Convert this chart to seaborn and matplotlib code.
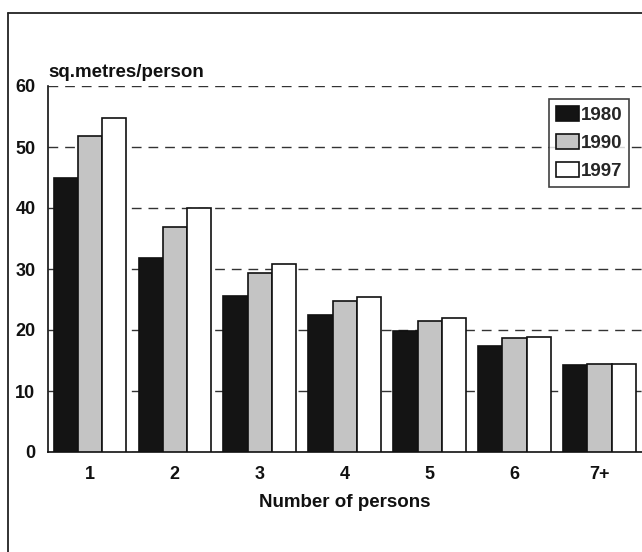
import matplotlib
matplotlib.use("Agg")
import matplotlib.pyplot as plt
from matplotlib.lines import Line2D
import pandas as pd
import seaborn as sns

# --- data
persons = ["1", "2", "3", "4", "5", "6", "7+"]
years = ["1980", "1990", "1997"]
area_1980 = [44.9, 31.8, 25.5, 22.5, 19.8, 17.4, 14.3]
area_1990 = [51.8, 36.9, 29.3, 24.8, 21.5, 18.7, 14.5]
area_1997 = [54.7, 40.0, 30.8, 25.4, 21.9, 18.8, 14.5]
y_ticks = [0, 10, 20, 30, 40, 50, 60]

df = pd.DataFrame({
    "persons": persons * 3,
    "year": [y for y in years for _ in persons],
    "area": area_1980 + area_1990 + area_1997,
})

sns.set_theme(style="white")
plt.rcParams["font.family"] = ["Liberation Sans", "DejaVu Sans"]
plt.rcParams["font.weight"] = "bold"

fig = plt.figure(figsize=(6.42, 5.52), dpi=100)
ax = fig.add_axes([48 / 642, 1 - 452 / 552, 1 - 48 / 642, (452 - 86) / 552])

palette = {"1980": "#141414", "1990": "#c4c4c4", "1997": "#ffffff"}
sns.barplot(data=df, x="persons", y="area", hue="year", order=persons,
            hue_order=years, palette=palette, width=0.85, saturation=1,
            edgecolor="#111111", linewidth=1.2, ax=ax, zorder=3)

ax.set_xlim(-0.49, 6.5)
ax.set_ylim(0, 60)
ax.set_yticks(y_ticks)
ax.grid(axis="y", linestyle=(0, (7, 5)), color="#333333", linewidth=1.0, zorder=0)
ax.grid(axis="x", visible=False)
ax.set_axisbelow(True)

for side in ["top", "right"]:
    ax.spines[side].set_visible(False)
for side in ["left", "bottom"]:
    ax.spines[side].set_color("#111111")
    ax.spines[side].set_linewidth(1.2)

ax.tick_params(axis="y", length=0, pad=9, labelsize=13, labelcolor="#111111")
ax.tick_params(axis="x", length=0, pad=10, labelsize=13, labelcolor="#111111")
for lbl in ax.get_xticklabels() + ax.get_yticklabels():
    lbl.set_fontweight("bold")

ax.set_ylabel("")
ax.set_xlabel("Number of persons", fontsize=13.5, fontweight="bold",
              color="#111111", labelpad=8)
ax.text(0, 1.014, "sq.metres/person", transform=ax.transAxes, ha="left",
        va="bottom", fontsize=13.5, fontweight="bold", color="#111111")

leg = ax.legend(loc="upper right", bbox_to_anchor=(629 / 642, 1 - 99 / 552),
                bbox_transform=fig.transFigure, fontsize=13.5, frameon=True,
                fancybox=False, handlelength=1.25, handleheight=0.85,
                handletextpad=0.1, borderpad=0.35, labelspacing=0.55,
                borderaxespad=0)
leg.get_frame().set_edgecolor("#111111")
leg.get_frame().set_linewidth(1.2)
for t in leg.get_texts():
    t.set_fontweight("bold")

# outer frame (left and top edges only visible in the scan)
fig.add_artist(Line2D([8 / 642, 8 / 642], [0, 1 - 13 / 552],
                      transform=fig.transFigure, color="#222222", linewidth=1.3))
fig.add_artist(Line2D([8 / 642, 1], [1 - 13 / 552, 1 - 13 / 552],
                      transform=fig.transFigure, color="#222222", linewidth=1.3))

fig.savefig("out.png", dpi=100)
